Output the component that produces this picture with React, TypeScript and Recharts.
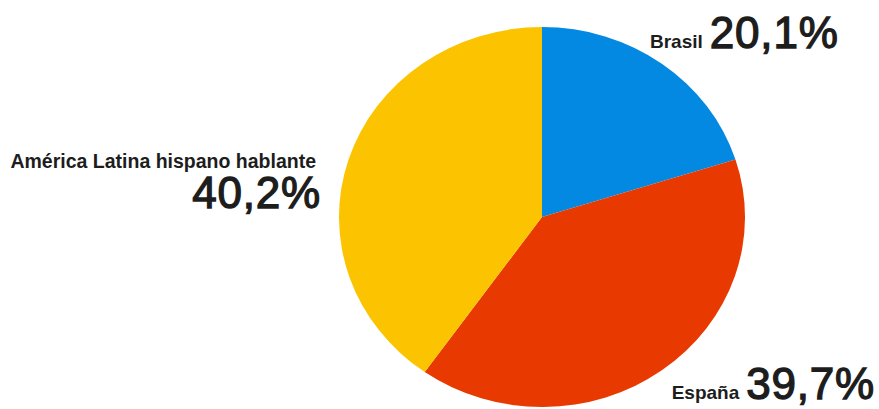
import { PieChart, Pie, Cell } from "recharts";

const regions = ["Brasil", "España", "América Latina hispano hablante"];
const shares = [20.1, 39.7, 40.2];
const shareLabels = ["20,1%", "39,7%", "40,2%"];
const colors = ["#0389E2", "#E83A00", "#FCC400"];

const data = regions.map((name, i) => ({ name, value: shares[i] }));

const FONT = "'Liberation Sans', Arial, Helvetica, sans-serif";
const INK = "#1d1d1d";

// pie is drawn as a circle and stretched a bit horizontally, like the original
const RY = 190;
const RX = 203;
const CX = 541.5;
const CY = 216.5;

// big percentages: regular face with a thin outline gives a medium weight
const bigNum = {
  fontSize: 44,
  fontWeight: 400,
  letterSpacing: 0.8,
  stroke: INK,
  strokeWidth: 1.3,
};

export default function App() {
  return (
    <div
      style={{
        position: "absolute",
        left: 0,
        top: 0,
        width: 879,
        height: 409,
        background: "#fff",
        overflow: "hidden",
        fontFamily: FONT,
      }}
    >
      <div
        style={{
          position: "absolute",
          left: CX - RY,
          top: CY - RY,
          width: RY * 2,
          height: RY * 2,
          transform: `scaleX(${RX / RY})`,
          transformOrigin: "center center",
        }}
      >
        <PieChart width={RY * 2} height={RY * 2} margin={{ top: 0, right: 0, bottom: 0, left: 0 }}>
          <Pie
            data={data}
            dataKey="value"
            nameKey="name"
            cx={RY}
            cy={RY}
            innerRadius={0}
            outerRadius={RY}
            startAngle={90}
            endAngle={-270}
            stroke="none"
            isAnimationActive={false}
          >
            {data.map((entry, i) => (
              <Cell key={`cell-${entry.name}`} fill={colors[i]} />
            ))}
          </Pie>
        </PieChart>
      </div>

      <svg
        width={879}
        height={409}
        style={{ position: "absolute", left: 0, top: 0, pointerEvents: "none" }}
      >
        {/* Brasil */}
        <text x={650} y={48} fill={INK} fontFamily={FONT}>
          <tspan fontSize={19} fontWeight={700}>{regions[0]}</tspan>
          <tspan dx={7} {...bigNum}>{shareLabels[0]}</tspan>
        </text>

        {/* América Latina */}
        <text x={316} y={168} fill={INK} fontFamily={FONT} fontSize={19.5} fontWeight={700} textAnchor="end">
          {regions[2]}
        </text>
        <text x={321} y={208} fill={INK} fontFamily={FONT} textAnchor="end" {...bigNum}>
          {shareLabels[2]}
        </text>

        {/* España */}
        <text x={875} y={399} fill={INK} fontFamily={FONT} textAnchor="end">
          <tspan fontSize={19} fontWeight={700}>{regions[1]}</tspan>
          <tspan dx={7} {...bigNum}>{shareLabels[1]}</tspan>
        </text>
      </svg>
    </div>
  );
}
